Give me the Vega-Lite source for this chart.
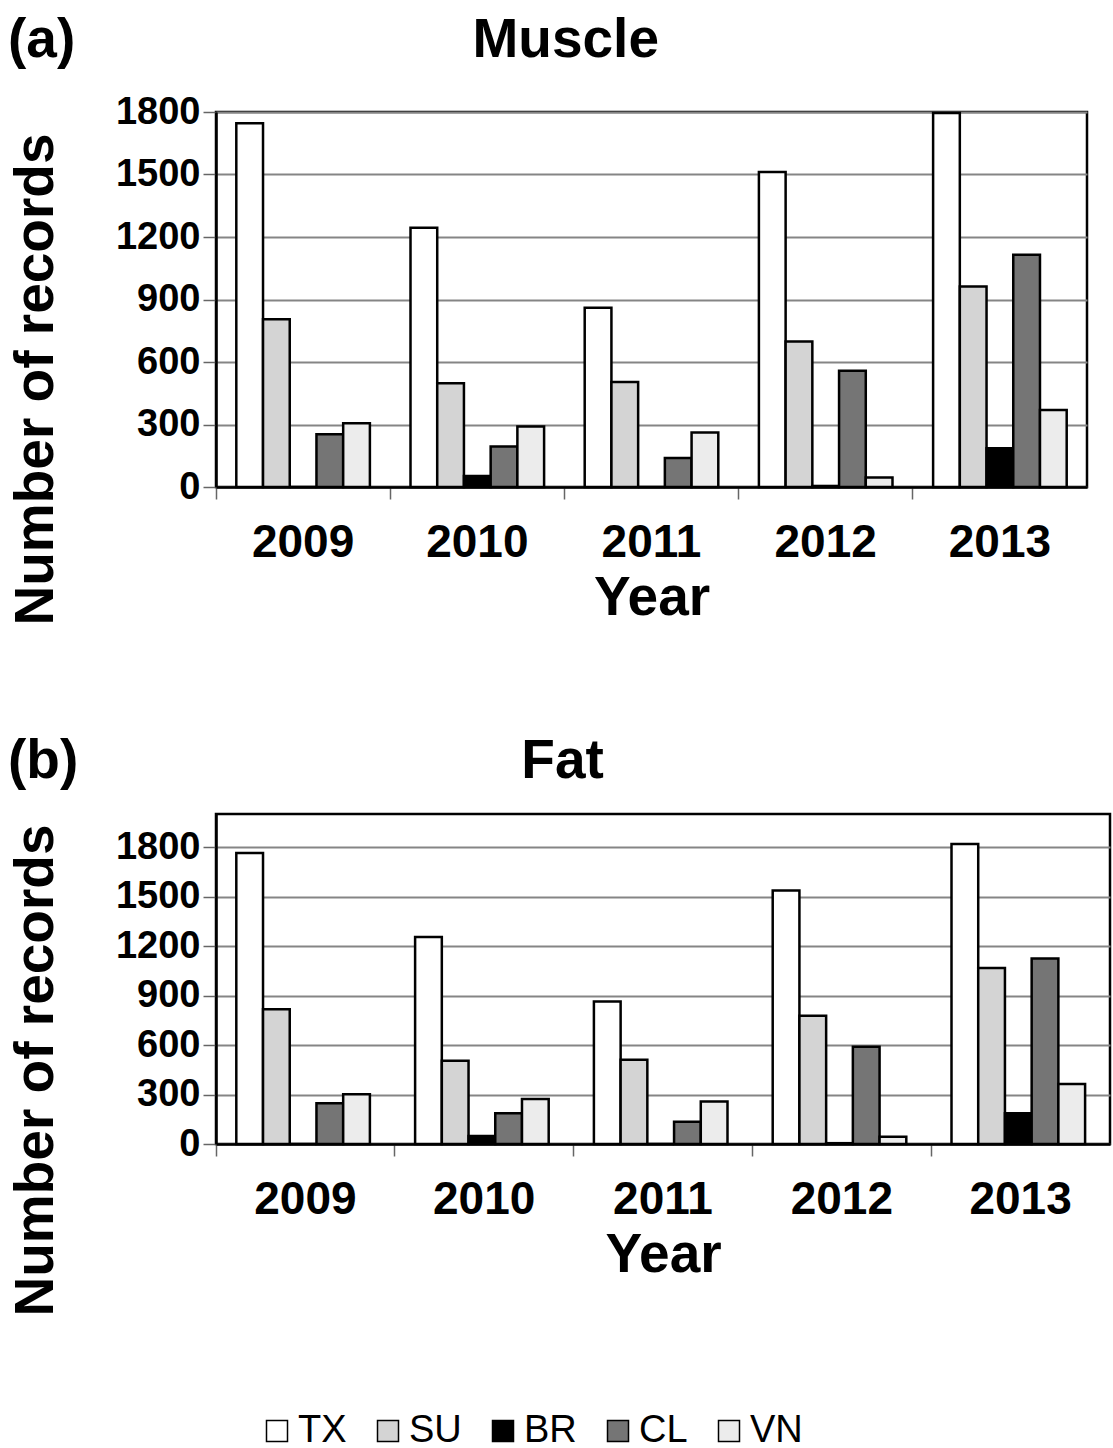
{
  "$schema": "https://vega.github.io/schema/vega-lite/v6.json",
  "background": "white",
  "padding": {"left": 6, "top": 11, "right": 0, "bottom": 5},
  "data": {"values": [
    {"panel": "Muscle", "year": "2009", "region": "TX", "value": 1746},
    {"panel": "Muscle", "year": "2009", "region": "SU", "value": 805},
    {"panel": "Muscle", "year": "2009", "region": "BR", "value": 0},
    {"panel": "Muscle", "year": "2009", "region": "CL", "value": 253},
    {"panel": "Muscle", "year": "2009", "region": "VN", "value": 306},
    {"panel": "Muscle", "year": "2010", "region": "TX", "value": 1245},
    {"panel": "Muscle", "year": "2010", "region": "SU", "value": 498},
    {"panel": "Muscle", "year": "2010", "region": "BR", "value": 53},
    {"panel": "Muscle", "year": "2010", "region": "CL", "value": 194},
    {"panel": "Muscle", "year": "2010", "region": "VN", "value": 290},
    {"panel": "Muscle", "year": "2011", "region": "TX", "value": 861},
    {"panel": "Muscle", "year": "2011", "region": "SU", "value": 504},
    {"panel": "Muscle", "year": "2011", "region": "BR", "value": 0},
    {"panel": "Muscle", "year": "2011", "region": "CL", "value": 139},
    {"panel": "Muscle", "year": "2011", "region": "VN", "value": 262},
    {"panel": "Muscle", "year": "2012", "region": "TX", "value": 1512},
    {"panel": "Muscle", "year": "2012", "region": "SU", "value": 698},
    {"panel": "Muscle", "year": "2012", "region": "BR", "value": 5},
    {"panel": "Muscle", "year": "2012", "region": "CL", "value": 558},
    {"panel": "Muscle", "year": "2012", "region": "VN", "value": 46},
    {"panel": "Muscle", "year": "2013", "region": "TX", "value": 1795},
    {"panel": "Muscle", "year": "2013", "region": "SU", "value": 962},
    {"panel": "Muscle", "year": "2013", "region": "BR", "value": 186},
    {"panel": "Muscle", "year": "2013", "region": "CL", "value": 1115},
    {"panel": "Muscle", "year": "2013", "region": "VN", "value": 370},
    {"panel": "Fat", "year": "2009", "region": "TX", "value": 1764},
    {"panel": "Fat", "year": "2009", "region": "SU", "value": 817},
    {"panel": "Fat", "year": "2009", "region": "BR", "value": 0},
    {"panel": "Fat", "year": "2009", "region": "CL", "value": 247},
    {"panel": "Fat", "year": "2009", "region": "VN", "value": 301},
    {"panel": "Fat", "year": "2010", "region": "TX", "value": 1254},
    {"panel": "Fat", "year": "2010", "region": "SU", "value": 504},
    {"panel": "Fat", "year": "2010", "region": "BR", "value": 49},
    {"panel": "Fat", "year": "2010", "region": "CL", "value": 186},
    {"panel": "Fat", "year": "2010", "region": "VN", "value": 273},
    {"panel": "Fat", "year": "2011", "region": "TX", "value": 864},
    {"panel": "Fat", "year": "2011", "region": "SU", "value": 510},
    {"panel": "Fat", "year": "2011", "region": "BR", "value": 0},
    {"panel": "Fat", "year": "2011", "region": "CL", "value": 135},
    {"panel": "Fat", "year": "2011", "region": "VN", "value": 257},
    {"panel": "Fat", "year": "2012", "region": "TX", "value": 1537},
    {"panel": "Fat", "year": "2012", "region": "SU", "value": 777},
    {"panel": "Fat", "year": "2012", "region": "BR", "value": 5},
    {"panel": "Fat", "year": "2012", "region": "CL", "value": 590},
    {"panel": "Fat", "year": "2012", "region": "VN", "value": 44},
    {"panel": "Fat", "year": "2013", "region": "TX", "value": 1818},
    {"panel": "Fat", "year": "2013", "region": "SU", "value": 1066},
    {"panel": "Fat", "year": "2013", "region": "BR", "value": 186},
    {"panel": "Fat", "year": "2013", "region": "CL", "value": 1124},
    {"panel": "Fat", "year": "2013", "region": "VN", "value": 364}
  ]},
  "config": {
    "font": "Liberation Sans",
    "view": {"stroke": "black", "strokeWidth": 2.5},
    "axis": {
      "labelFont": "Liberation Sans",
      "labelFontWeight": "bold",
      "labelColor": "black",
      "titleFont": "Liberation Sans",
      "titleFontWeight": "bold",
      "titleColor": "black",
      "titleFontSize": 55,
      "domainColor": "black",
      "domainWidth": 2.5,
      "tickColor": "#666666",
      "tickWidth": 1.5,
      "gridColor": "#858585",
      "gridWidth": 1.8,
      "gridOpacity": 1
    }
  },
  "resolve": {"legend": {"color": "independent"}},
  "spacing": 105,
  "vconcat": [
    {
      "title": {"text": "(a)\u00a0\u00a0\u00a0\u00a0\u00a0\u00a0\u00a0\u00a0\u00a0\u00a0\u00a0\u00a0\u00a0\u00a0\u00a0\u00a0\u00a0\u00a0\u00a0\u00a0\u00a0\u00a0\u00a0\u00a0\u00a0\u00a0Muscle", "anchor": "start", "frame": "bounds", "fontSize": 55, "fontWeight": "bold", "font": "Liberation Sans", "color": "black", "offset": 24},
      "width": 871,
      "height": 375,
      "transform": [{"filter": "datum.panel == 'Muscle'"}],
      "mark": {"type": "bar", "stroke": "black", "strokeWidth": 2.5},
      "encoding": {
        "x": {"field": "year", "type": "nominal", "scale": {"paddingInner": 0, "paddingOuter": 0},
              "axis": {"title": "Year", "bandPosition": 0, "labelAngle": 0, "labelFontSize": 46, "tickSize": 12, "labelPadding": 21, "titlePadding": 6, "grid": false, "domain": true}},
        "xOffset": {"field": "region", "type": "nominal", "sort": ["TX", "SU", "BR", "CL", "VN"], "scale": {"paddingInner": 0, "paddingOuter": 0.76}},
        "y": {"field": "value", "type": "quantitative", "scale": {"domain": [0, 1800], "nice": false},
              "axis": {"title": "Number of records", "format": "d", "values": [0, 300, 600, 900, 1200, 1500, 1800], "labelFontSize": 38, "tickSize": 13, "labelPadding": 3, "grid": true, "titleX": -152, "titleY": 267, "titleAlign": "center", "titleBaseline": "bottom", "titleAngle": -90}},
        "color": {"field": "region", "type": "nominal",
                  "scale": {"domain": ["TX", "SU", "BR", "CL", "VN"], "range": ["#ffffff", "#d4d4d4", "#000000", "#757575", "#ececec"]},
                  "legend": null}
      }
    },
    {
      "title": {"text": "(b)\u00a0\u00a0\u00a0\u00a0\u00a0\u00a0\u00a0\u00a0\u00a0\u00a0\u00a0\u00a0\u00a0\u00a0\u00a0\u00a0\u00a0\u00a0\u00a0\u00a0\u00a0\u00a0\u00a0\u00a0\u00a0\u00a0\u00a0\u00a0\u00a0Fat", "anchor": "start", "frame": "bounds", "fontSize": 55, "fontWeight": "bold", "font": "Liberation Sans", "color": "black", "offset": 24},
      "width": 894,
      "height": 330,
      "transform": [{"filter": "datum.panel == 'Fat'"}],
      "mark": {"type": "bar", "stroke": "black", "strokeWidth": 2.5},
      "encoding": {
        "x": {"field": "year", "type": "nominal", "scale": {"paddingInner": 0, "paddingOuter": 0},
              "axis": {"title": "Year", "bandPosition": 0, "labelAngle": 0, "labelFontSize": 46, "tickSize": 12, "labelPadding": 21, "titlePadding": 6, "grid": false, "domain": true}},
        "xOffset": {"field": "region", "type": "nominal", "sort": ["TX", "SU", "BR", "CL", "VN"], "scale": {"paddingInner": 0, "paddingOuter": 0.86}},
        "y": {"field": "value", "type": "quantitative", "scale": {"domain": [0, 2000], "nice": false},
              "axis": {"title": "Number of records", "format": "d", "values": [0, 300, 600, 900, 1200, 1500, 1800], "labelFontSize": 38, "tickSize": 13, "labelPadding": 3, "grid": true, "titleX": -152, "titleY": 256, "titleAlign": "center", "titleBaseline": "bottom", "titleAngle": -90}},
        "color": {"field": "region", "type": "nominal",
                  "scale": {"domain": ["TX", "SU", "BR", "CL", "VN"], "range": ["#ffffff", "#d4d4d4", "#000000", "#757575", "#ececec"]},
                  "legend": {"orient": "none", "direction": "horizontal", "legendX": 42, "legendY": 598, "title": null, "padding": 0, "symbolType": "square", "symbolSize": 441, "symbolStrokeColor": "black", "symbolStrokeWidth": 1.5, "labelFont": "Liberation Sans", "labelFontSize": 38, "labelColor": "black", "labelOffset": 2, "columnPadding": 22}}
      }
    }
  ]
}
